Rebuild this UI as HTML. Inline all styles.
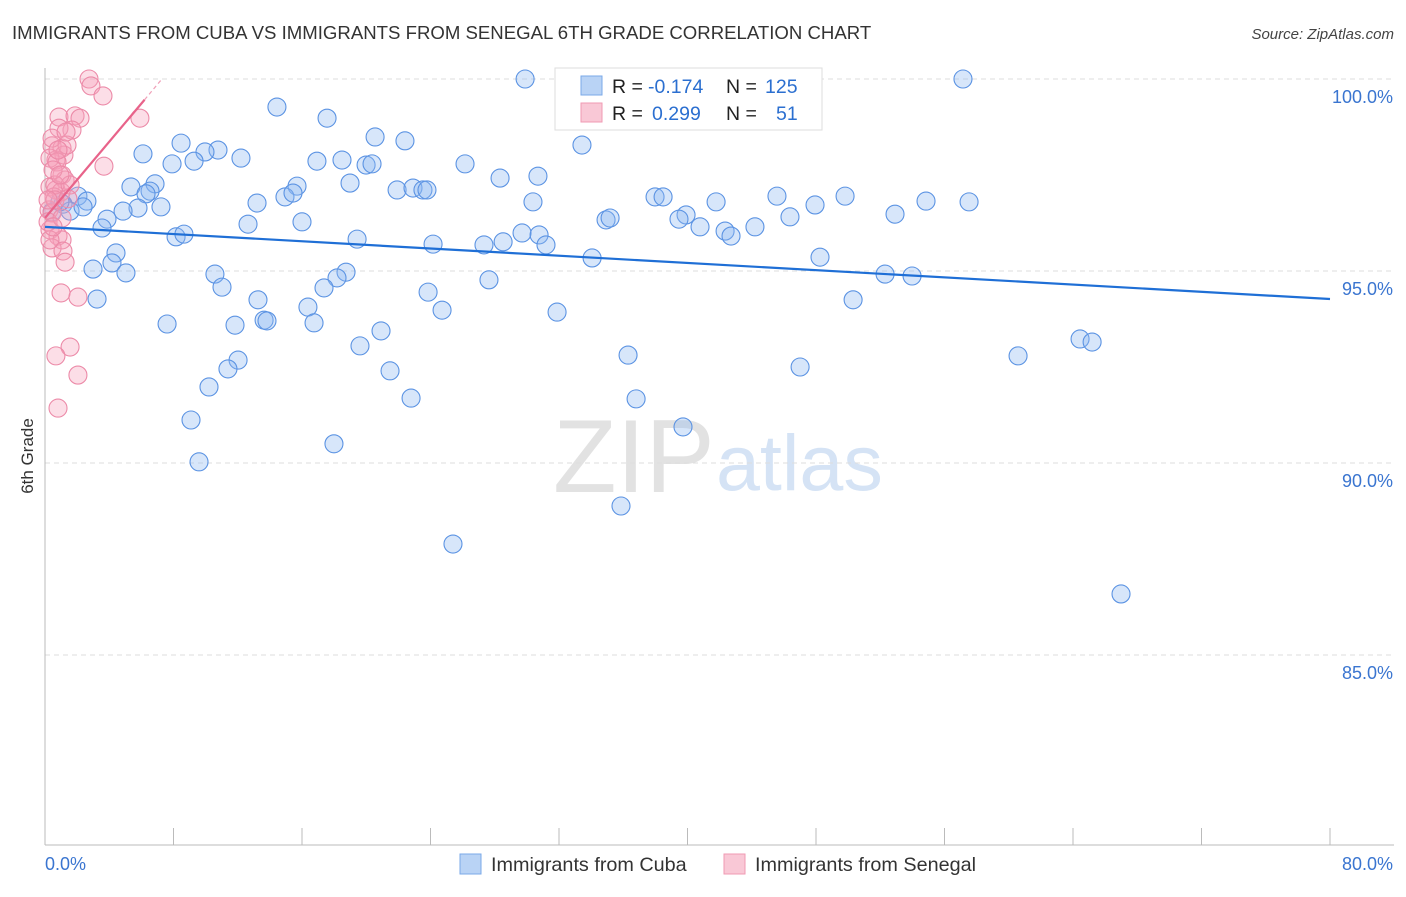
<!DOCTYPE html>
<html><head><meta charset="utf-8"><style>
body{margin:0;background:#fff;font-family:"Liberation Sans",sans-serif;}
svg text{font-family:"Liberation Sans",sans-serif;}
</style></head><body>
<svg id="chart" width="1406" height="892" viewBox="0 0 1406 892" xmlns="http://www.w3.org/2000/svg">
<text x="12" y="39" font-size="18.6" fill="#333">IMMIGRANTS FROM CUBA VS IMMIGRANTS FROM SENEGAL 6TH GRADE CORRELATION CHART</text>
<text x="1394" y="39" font-size="15" fill="#444" text-anchor="end" font-style="italic">Source: ZipAtlas.com</text>
<text transform="translate(33,456) rotate(-90)" font-size="17" fill="#333" text-anchor="middle">6th Grade</text>
<g>
<text x="553" y="492" font-size="104" fill="#e2e2e2" font-family="Liberation Serif,serif">ZIP</text>
<text x="716" y="490" font-size="79" fill="#d5e3f5">atlas</text>
</g>
<g id="grid"></g>
<g id="axes"></g>
<g id="pts"></g>
<g id="trend"></g>
<g>
<rect x="555" y="68" width="267" height="62" fill="#fff" stroke="#ddd"/>
<rect x="581" y="76" width="21" height="19" fill="#b9d3f5" stroke="#7aa8e8"/>
<rect x="581" y="103" width="21" height="19" fill="#f9c8d6" stroke="#f09ab3"/>
<text x="612" y="93" font-size="19.5" fill="#222">R = </text><text x="648" y="93" font-size="19.5" fill="#2b6fd0">-0.174</text>
<text x="726" y="93" font-size="19.5" fill="#222">N = </text><text x="765" y="93" font-size="19.5" fill="#2b6fd0">125</text>
<text x="612" y="120" font-size="19.5" fill="#222">R = </text><text x="652" y="120" font-size="19.5" fill="#2b6fd0">0.299</text>
<text x="726" y="120" font-size="19.5" fill="#222">N = </text><text x="776" y="120" font-size="19.5" fill="#2b6fd0">51</text>
</g>
<g>
<rect x="460" y="854" width="21" height="20" fill="#b9d3f5" stroke="#7aa8e8"/>
<text x="491" y="871" font-size="19.8" fill="#333">Immigrants from Cuba</text>
<rect x="724" y="854" width="21" height="20" fill="#f9c8d6" stroke="#f09ab3"/>
<text x="755" y="871" font-size="19.8" fill="#333">Immigrants from Senegal</text>
</g>
</svg>
<script>
const yTicks=[100,95,90,85];
const yTickLabels=["100.0%","95.0%","90.0%","85.0%"];
const xTicks=[0,8,16,24,32,40,48,56,64,72,80];
const xEndLabels=["0.0%","80.0%"];
const cubaX=[29.89,57.15,14.44,17.56,20.55,22.41,8.47,33.43,6.10,10.77,9.96,12.20,9.28,7.91,16.93,18.49,19.99,20.36,26.15,28.33,30.69,18.99,5.35,6.85,15.69,6.54,6.29,14.94,15.44,21.92,22.91,23.53,23.78,37.98,38.48,45.57,49.81,54.85,57.53,41.78,47.94,30.38,13.20,7.22,5.79,4.86,2.05,2.61,1.12,1.56,2.37,0.44,0.93,52.92,39.91,39.47,34.93,35.18,46.38,3.86,3.55,12.64,16.00,44.20,40.78,42.34,42.71,29.70,30.76,31.19,27.33,28.52,24.16,19.43,8.16,8.65,4.42,4.17,2.99,5.04,34.06,48.25,52.30,53.98,18.74,18.18,10.58,11.02,27.64,17.37,23.85,3.24,13.26,16.37,24.72,31.88,50.31,7.60,11.83,13.64,13.82,16.75,20.92,64.44,65.19,19.61,60.58,36.30,12.02,11.39,21.48,47.01,10.21,22.79,36.80,9.09,39.72,17.99,9.59,35.86,25.40,66.99];
const cubaY=[100,100,99.27,98.98,98.49,98.39,98.33,98.28,98.05,98.15,98.10,97.94,97.86,97.79,97.86,97.89,97.76,97.79,97.79,97.42,97.47,97.29,97.19,97.27,97.21,97.08,97.01,96.93,97.03,97.11,97.16,97.11,97.11,96.93,96.93,96.95,96.95,96.82,96.80,96.80,96.72,96.80,96.77,96.67,96.64,96.56,96.95,96.82,96.74,96.56,96.67,96.54,96.80,96.48,96.46,96.35,96.33,96.38,96.41,96.35,96.12,96.22,96.28,96.15,96.15,96.04,95.91,95.99,95.94,95.68,95.68,95.76,95.70,95.83,95.89,95.96,95.47,95.21,95.05,94.95,95.34,95.36,94.92,94.87,94.97,94.82,94.92,94.58,94.77,94.56,94.45,94.27,94.25,94.06,93.98,93.93,94.25,93.62,93.59,93.72,93.70,93.65,93.44,93.23,93.15,93.05,92.79,92.81,92.68,92.45,92.40,92.50,91.98,91.69,91.67,91.12,90.94,90.50,90.03,88.88,87.89,86.59];
const senX=[2.74,2.86,3.61,5.91,0.87,1.87,2.18,1.68,0.87,0.44,1.06,0.68,1.18,0.31,0.75,3.67,1.06,1.25,0.31,0.68,1.00,0.56,0.25,0.44,0.31,0.81,1.06,0.44,1.12,1.25,1.00,2.05,1.56,0.68,2.05,0.81,0.19,0.62,1.56,0.44,1.37,0.62,0.31,0.81,0.50,1.43,1.06,0.19,0.93,0.50,1.31];
const senY=[100,99.82,99.56,98.98,99.01,99.04,98.98,98.67,98.72,98.26,98.20,97.89,98.02,97.94,97.84,97.73,97.50,97.37,97.19,97.11,97.06,96.93,96.59,96.51,96.07,95.91,95.81,95.60,95.52,95.23,94.43,94.32,93.02,92.79,92.29,91.43,96.28,97.24,97.24,98.46,98.28,96.85,95.81,98.15,97.63,96.88,96.38,96.85,97.50,96.15,98.62];
const cubaTrend=[[0,96.15],[80,94.27]];
const senTrendSolid=[[0,96.38],[6.2,99.46]];
const senTrendDash=[[6.2,99.46],[7.2,99.96]];

const X0=45,X1=1330,Y100=79,PXPER=38.4;
const sx=v=>X0+(v/80)*(X1-X0);
const sy=v=>Y100+(100-v)*PXPER;
const NS="http://www.w3.org/2000/svg";
function mk(tag,parent,attrs){const e=document.createElementNS(NS,tag);for(const k in attrs)e.setAttribute(k,attrs[k]);parent.appendChild(e);return e;}
const grid=document.getElementById('grid'),axes=document.getElementById('axes'),pts=document.getElementById('pts'),trend=document.getElementById('trend');
yTicks.forEach((t,i)=>{
  const l=mk('line',grid,{x1:X0,x2:1394,y1:sy(t),y2:sy(t),stroke:'#ddd','stroke-dasharray':'5,4'});
  
  
  const tx=mk('text',grid,{x:1393,y:sy(t)+24,'font-size':18,fill:'#3a75d0','text-anchor':'end'});
  tx.textContent=yTickLabels[i];
  
  
});
const ya=mk('line',axes,{x1:X0,x2:X0,y1:68,y2:845,stroke:'#bbb'});


const xa=mk('line',axes,{x1:X0,x2:1394,y1:845,y2:845,stroke:'#bbb'});


xTicks.forEach(t=>{
  const l=mk('line',axes,{x1:sx(t),x2:sx(t),y1:828,y2:845,stroke:'#bbb'});
  
  
});
const xl0=mk('text',axes,{x:45,y:870,'font-size':18,fill:'#3a75d0'});
xl0.textContent=xEndLabels[0];


const xl1=mk('text',axes,{x:1393,y:870,'font-size':18,fill:'#3a75d0','text-anchor':'end'});
xl1.textContent=xEndLabels[1];


cubaX.forEach((x,i)=>{
  const c=mk('circle',pts,{cx:sx(x),cy:sy(cubaY[i]),r:9,fill:'rgba(140,182,240,0.35)',stroke:'#5b93e3','stroke-width':1.1});
  
  
});
senX.forEach((x,i)=>{
  const c=mk('circle',pts,{cx:sx(x),cy:sy(senY[i]),r:9,fill:'rgba(245,160,186,0.35)',stroke:'#ec8aa8','stroke-width':1.1});
  
  
});
const bt=mk('line',trend,{x1:sx(cubaTrend[0][0]),y1:sy(cubaTrend[0][1]),x2:sx(cubaTrend[1][0]),y2:sy(cubaTrend[1][1]),stroke:'#1f6fd6','stroke-width':2.2});


const pt=mk('line',trend,{x1:sx(senTrendSolid[0][0]),y1:sy(senTrendSolid[0][1]),x2:sx(senTrendSolid[1][0]),y2:sy(senTrendSolid[1][1]),stroke:'#e8638a','stroke-width':2.2});


const pd=mk('line',trend,{x1:sx(senTrendDash[0][0]),y1:sy(senTrendDash[0][1]),x2:sx(senTrendDash[1][0]),y2:sy(senTrendDash[1][1]),stroke:'#f0a0b8','stroke-width':1.2,'stroke-dasharray':'4,3'});


</script>
</body></html>
